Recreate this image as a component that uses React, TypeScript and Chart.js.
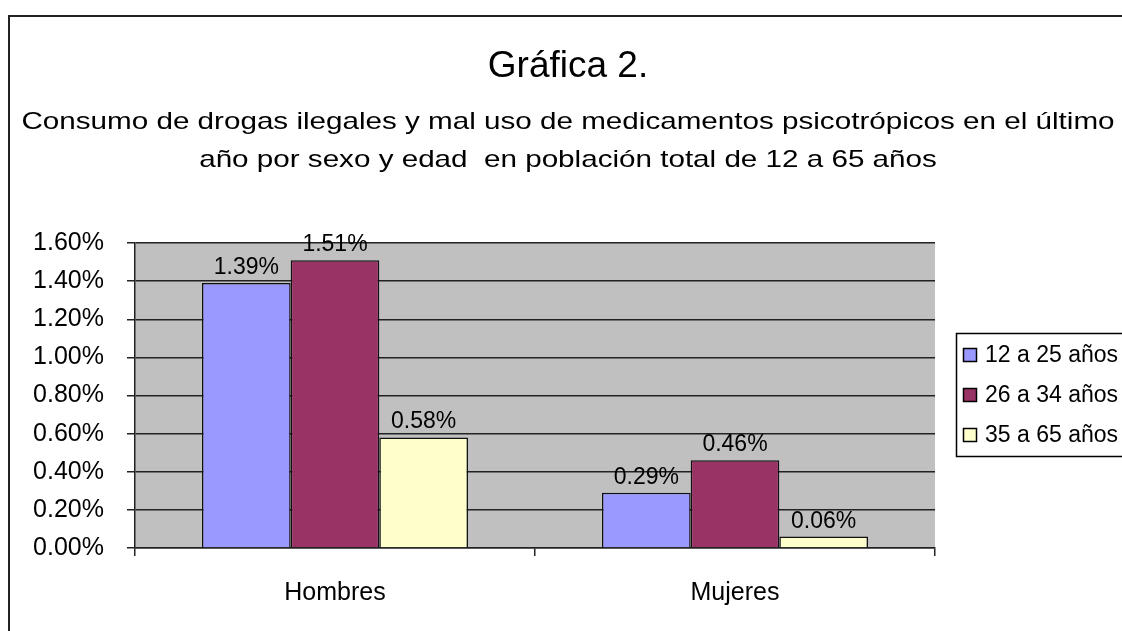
import React, { useEffect, useRef } from "react";
import { Chart, registerables } from "chart.js";

Chart.register(...registerables);

const title = "Gráfica 2.";
const subtitleLines = [
  "Consumo de drogas ilegales y mal uso de medicamentos psicotrópicos en el último",
  "año por sexo y edad  en población total de 12 a 65 años",
];
const categories = ["Hombres", "Mujeres"];
const seriesNames = ["12 a 25 años", "26 a 34 años", "35 a 65 años"];
const serie1 = [1.39, 0.29];
const serie2 = [1.51, 0.46];
const serie3 = [0.58, 0.06];
const seriesColors = ["#9999FF", "#993366", "#FFFFCC"];
const yMax = 1.6;
const yStep = 0.2;

const FONT = "'Liberation Sans', Arial, sans-serif";

export default function App() {
  const ref = useRef<HTMLCanvasElement | null>(null);

  useEffect(() => {
    const canvas = ref.current;
    if (!canvas) return;

    const decor = {
      id: "decor",
      beforeDraw(chart: any) {
        const { ctx, chartArea } = chart;
        ctx.save();
        ctx.fillStyle = "#FFFFFF";
        ctx.fillRect(0, 0, chart.width, chart.height);
        // frame
        ctx.strokeStyle = "#222";
        ctx.lineWidth = 2;
        ctx.beginPath();
        ctx.moveTo(1200, 16);
        ctx.lineTo(9, 16);
        ctx.lineTo(9, 700);
        ctx.stroke();
        // plot background
        ctx.fillStyle = "#C0C0C0";
        ctx.fillRect(chartArea.left, chartArea.top, chartArea.right - chartArea.left, chartArea.bottom - chartArea.top);
        ctx.restore();
      },
      afterDatasetsDraw(chart: any) {
        const { ctx } = chart;
        ctx.save();
        ctx.font = `23px ${FONT}`;
        ctx.fillStyle = "#000";
        ctx.textAlign = "center";
        ctx.textBaseline = "alphabetic";
        chart.data.datasets.forEach((ds: any, i: number) => {
          const meta = chart.getDatasetMeta(i);
          meta.data.forEach((el: any, j: number) => {
            const v = ds.data[j] as number;
            ctx.fillText(v.toFixed(2) + "%", el.x, el.y - 9);
          });
        });
        ctx.restore();
      },
      afterDraw(chart: any) {
        const { ctx } = chart;
        ctx.save();
        ctx.fillStyle = "#000";
        ctx.textAlign = "center";
        ctx.textBaseline = "alphabetic";
        ctx.font = `37px ${FONT}`;
        ctx.fillText(title, 568, 77);
        ctx.font = `24px ${FONT}`;
        subtitleLines.forEach((line, i) => {
          ctx.save();
          ctx.translate(568, 129 + i * 38);
          ctx.scale(1.234, 1);
          ctx.fillText(line, 0, 0);
          ctx.restore();
        });
        // legend
        const lx = 956, ly = 333, lw = 180, lh = 123;
        ctx.fillStyle = "#FFFFFF";
        ctx.fillRect(lx, ly, lw, lh);
        ctx.strokeStyle = "#000";
        ctx.lineWidth = 1.5;
        ctx.strokeRect(lx + 0.5, ly + 0.5, lw, lh);
        ctx.font = `23px ${FONT}`;
        ctx.textAlign = "left";
        ctx.textBaseline = "middle";
        seriesNames.forEach((name, i) => {
          const cy = 355 + i * 40;
          ctx.fillStyle = seriesColors[i];
          ctx.fillRect(963, cy - 7, 14, 14);
          ctx.strokeStyle = "#000";
          ctx.lineWidth = 1.5;
          ctx.strokeRect(963.5, cy - 6.5, 13, 13);
          ctx.fillStyle = "#000";
          ctx.fillText(name, 985, cy + 1);
        });
        ctx.restore();
      },
    };

    const chart = new Chart(canvas, {
      type: "bar",
      data: {
        labels: categories,
        datasets: [serie1, serie2, serie3].map((d, i) => ({
          label: seriesNames[i],
          data: d,
          backgroundColor: seriesColors[i],
          borderColor: "#111",
          borderWidth: 1.5,
          barPercentage: 1,
          categoryPercentage: 0.665,
        })),
      },
      options: {
        responsive: false,
        animation: false,
        devicePixelRatio: 1,
        layout: { padding: { left: 0, right: 187, top: 243, bottom: 0 } },
        plugins: {
          legend: { display: false },
          title: { display: false },
          tooltip: { enabled: false },
        },
        scales: {
          y: {
            min: 0,
            max: yMax,
            afterFit(scale: any) {
              scale.width = 135;
            },
            ticks: {
              stepSize: yStep,
              color: "#000",
              padding: 23,
              font: { family: FONT, size: 25 },
              callback: (v: any) => Number(v).toFixed(2) + "%",
            },
            grid: { color: "#222", lineWidth: 1.5, tickLength: 8, drawTicks: true },
            border: { display: true, color: "#222", width: 1.5 },
          },
          x: {
            afterFit(scale: any) {
              scale.height = 83;
            },
            ticks: {
              color: "#000",
              padding: 22,
              font: { family: FONT, size: 25 },
            },
            grid: { offset: true, drawOnChartArea: false, color: "#222", lineWidth: 1.5, tickLength: 8 },
            border: { display: true, color: "#222", width: 1.5 },
          },
        },
      },
      plugins: [decor],
    });
    return () => chart.destroy();
  }, []);

  return (
    <div style={{ position: "absolute", left: 0, top: 0, width: 1122, height: 631 }}>
      <canvas ref={ref} width={1122} height={631} style={{ display: "block" }} />
    </div>
  );
}
